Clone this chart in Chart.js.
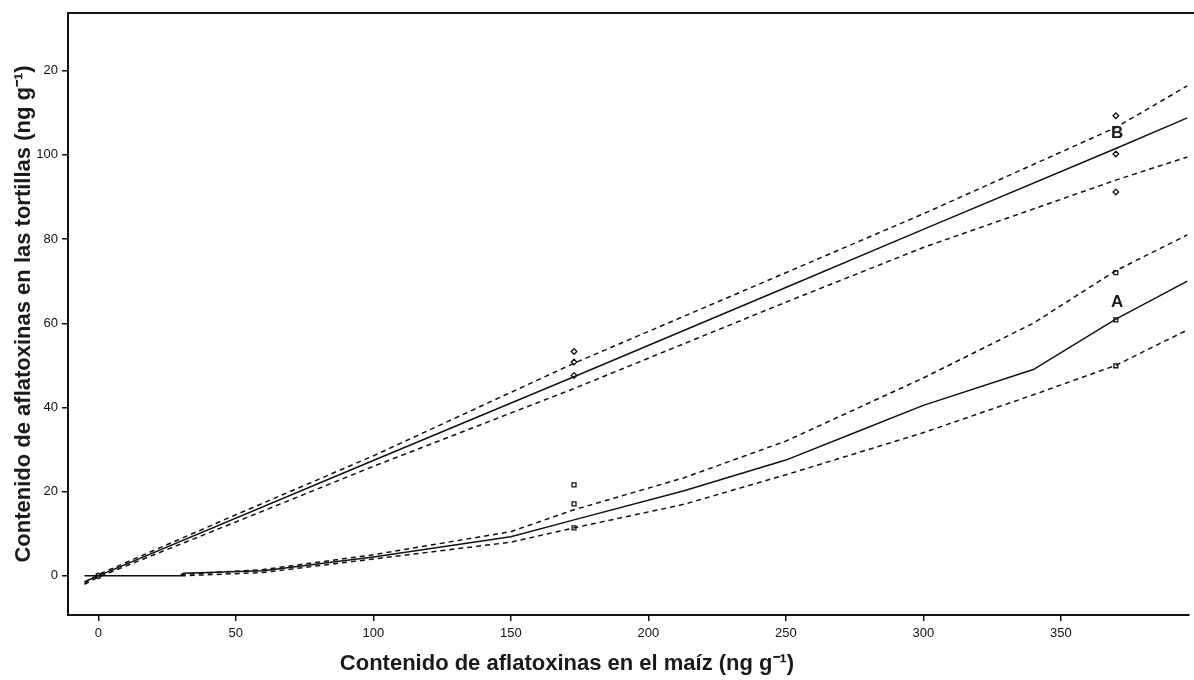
<!DOCTYPE html>
<html>
<head>
    <meta charset="utf-8">
    <title>Aflatoxinas maíz / tortillas</title>
    <script src="https://cdn.jsdelivr.net/npm/chart.js"></script>
    <style>
        body {
            margin: 0;
            background-color: #ffffff;
            font-family: "Liberation Sans", Arial, sans-serif;
        }

        #chart-box {
            width: 1194px;
            height: 680px;
            position: relative;
        }
    </style>
</head>
<body>

    <div id="chart-box">
        <canvas id="chart"></canvas>
    </div>

    <script>
        // Tick values and labels (the top label is cut to "20" in the original)
        const xTicks = [0, 50, 100, 150, 200, 250, 300, 350];
        const yTicks = [0, 20, 40, 60, 80, 100, 120];
        const yTickLabels = ['0', '20', '40', '60', '80', '100', '20'];

        // Curve B (fit and confidence band)
        const bLineX = [-5, 0, 100, 173, 250, 300, 370, 396];
        const bLineY = [-1.4, 0, 27.4, 47.3, 68.5, 82.3, 101.5, 108.8];
        const bUpperX = [-5, 0, 50, 100, 173, 250, 300, 370, 396];
        const bUpperY = [-1.6, 0.3, 14.5, 28.5, 50.5, 72, 86, 106.5, 116.4];
        const bLowerX = [-5, 0, 50, 100, 173, 250, 300, 370, 396];
        const bLowerY = [-2, -0.3, 12.8, 26, 44.5, 65, 78, 94, 99.5];

        // Curve A (fit and confidence band)
        const aLineX = [-5, 30, 31, 60, 100, 150, 173, 213, 250, 275, 300, 340, 370, 396];
        const aLineY = [0, 0, 0.6, 1.2, 4.5, 9.3, 13.3, 20.2, 27.5, 34, 40.5, 49, 61, 70];
        const aUpperX = [30, 60, 100, 150, 173, 213, 250, 300, 340, 370, 396];
        const aUpperY = [0.3, 1.5, 5, 10.5, 15.7, 23.3, 32, 47, 60, 72.5, 81];
        const aLowerX = [30, 60, 100, 150, 173, 213, 250, 300, 340, 370, 396];
        const aLowerY = [0, 0.8, 4, 8, 11.4, 17, 24, 34, 43, 50, 58.4];

        // Measured points
        const bPointsX = [0, 173, 173, 173, 370, 370, 370];
        const bPointsY = [0, 53.3, 50.8, 47.6, 109.3, 100.2, 91.2];
        const aPointsX = [0, 173, 173, 173, 370, 370, 370];
        const aPointsY = [0, 21.6, 17.1, 11.4, 72, 60.8, 49.9];

        // Curve labels
        const curveLabels = [
            { text: 'B', x: 370.5, y: 105.2 },
            { text: 'A', x: 370.5, y: 65 }
        ];

        const xTitle = 'Contenido de aflatoxinas en el maíz (ng g\u207B\u00B9)';
        const yTitle = 'Contenido de aflatoxinas en las tortillas (ng g\u207B\u00B9)';

        function zip(xs, ys) {
            return xs.map((x, i) => ({ x: x, y: ys[i] }));
        }

        function lineSet(xs, ys, dashed) {
            return {
                data: zip(xs, ys),
                showLine: true,
                borderColor: '#111',
                borderWidth: 1.5,
                borderDash: dashed ? [5, 4] : [],
                pointRadius: 0,
                tension: 0,
                fill: false
            };
        }

        function pointSet(xs, ys, style) {
            return {
                data: zip(xs, ys),
                showLine: false,
                pointStyle: style,
                pointRadius: 2.8,
                borderColor: '#111',
                borderWidth: 1.3,
                backgroundColor: '#fff'
            };
        }

        const textColor = '#1a1a1a';

        // Top frame line, curve letters and x axis title
        const extrasPlugin = {
            id: 'extras',
            afterDraw(chart) {
                const ctx = chart.ctx;
                const area = chart.chartArea;
                const xs = chart.scales.x;
                const ys = chart.scales.y;
                ctx.save();
                ctx.strokeStyle = '#111';
                ctx.lineWidth = 2;
                ctx.beginPath();
                ctx.moveTo(area.left - 1, area.top);
                ctx.lineTo(chart.width, area.top);
                ctx.stroke();

                ctx.fillStyle = textColor;
                ctx.textAlign = 'center';
                ctx.textBaseline = 'middle';
                ctx.font = 'bold 17px "Liberation Sans", Arial, sans-serif';
                curveLabels.forEach(l => {
                    ctx.fillText(l.text, xs.getPixelForValue(l.x), ys.getPixelForValue(l.y));
                });

                ctx.font = 'bold 22px "Liberation Sans", Arial, sans-serif';
                ctx.fillText(xTitle, 567, 664);
                ctx.restore();
            }
        };

        const tickFont = { family: '"Liberation Sans", Arial, sans-serif', size: 13 };

        new Chart(document.getElementById('chart').getContext('2d'), {
            type: 'scatter',
            data: {
                datasets: [
                    lineSet(bLineX, bLineY, false),
                    lineSet(bUpperX, bUpperY, true),
                    lineSet(bLowerX, bLowerY, true),
                    lineSet(aLineX, aLineY, false),
                    lineSet(aUpperX, aUpperY, true),
                    lineSet(aLowerX, aLowerY, true),
                    pointSet(bPointsX, bPointsY, 'rectRot'),
                    pointSet(aPointsX, aPointsY, 'rect')
                ]
            },
            options: {
                responsive: true,
                maintainAspectRatio: false,
                animation: false,
                layout: {
                    padding: { top: 13, right: 2, left: 0, bottom: 0 }
                },
                plugins: {
                    legend: { display: false },
                    tooltip: { enabled: false }
                },
                scales: {
                    x: {
                        type: 'linear',
                        min: -11,
                        max: 396.5,
                        afterBuildTicks: s => { s.ticks = xTicks.map(v => ({ value: v })); },
                        afterFit: s => { s.height = 65; },
                        grid: {
                            display: true,
                            drawOnChartArea: false,
                            drawTicks: true,
                            tickLength: 6,
                            color: '#111',
                            lineWidth: 1.5
                        },
                        border: { display: true, color: '#111', width: 2 },
                        ticks: { font: tickFont, color: '#111', padding: 5, maxRotation: 0 }
                    },
                    y: {
                        type: 'linear',
                        min: -9.3,
                        max: 133.7,
                        afterBuildTicks: s => { s.ticks = yTicks.map(v => ({ value: v })); },
                        afterFit: s => { s.width = 68; },
                        grid: {
                            display: true,
                            drawOnChartArea: false,
                            drawTicks: true,
                            tickLength: 6,
                            color: '#111',
                            lineWidth: 1.5
                        },
                        border: { display: true, color: '#111', width: 2 },
                        ticks: {
                            font: tickFont,
                            color: '#111',
                            padding: 4,
                            callback: (value) => {
                                const i = yTicks.indexOf(value);
                                return i >= 0 ? yTickLabels[i] : '';
                            }
                        },
                        title: {
                            display: true,
                            text: yTitle,
                            color: textColor,
                            font: { family: '"Liberation Sans", Arial, sans-serif', size: 22, weight: 'bold' },
                            padding: { top: 11, bottom: 0 }
                        }
                    }
                }
            },
            plugins: [extrasPlugin]
        });
    </script>
</body>
</html>
